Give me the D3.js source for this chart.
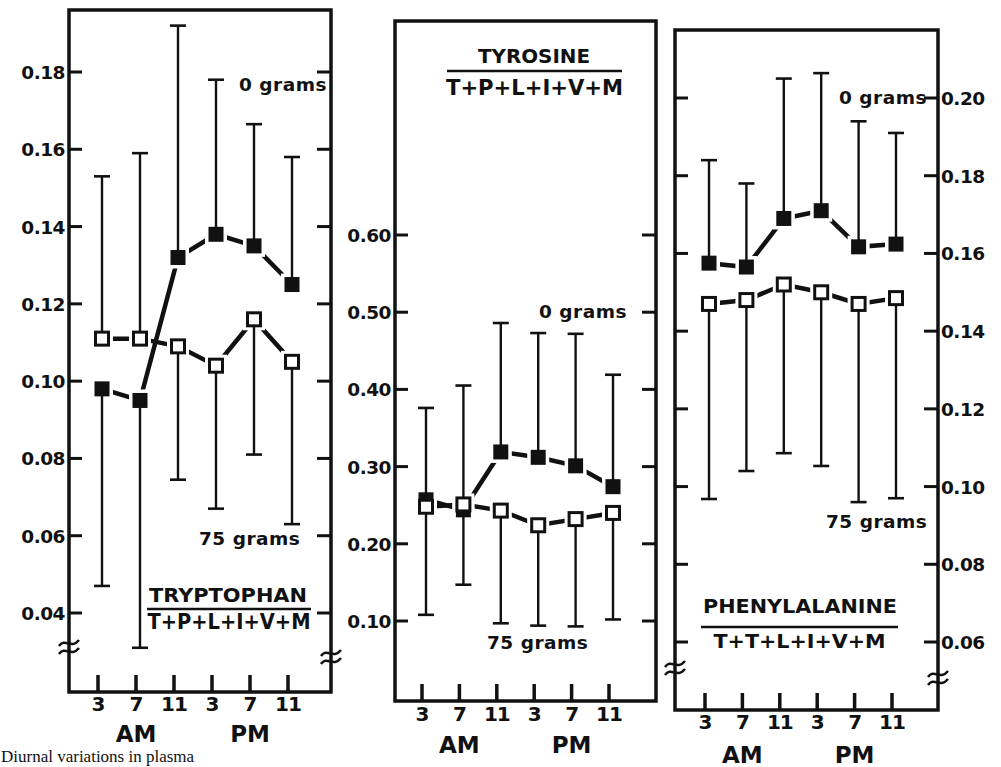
<!DOCTYPE html>
<html>
<head>
<meta charset="utf-8">
<script src="https://cdn.jsdelivr.net/npm/d3@7"></script>
<style>
body { margin: 0; background: #fff; }
svg { display: block; }
text { font-family: "DejaVu Sans", sans-serif; font-weight: bold; fill: #111; }
.caption { font-family: "Liberation Serif", serif; font-weight: normal; }
</style>
</head>
<body>
<svg id="fig" width="1001" height="767"></svg>
<script>
// time of day (hours), two day halves
var times = ["3", "7", "11", "3", "7", "11"];
var halves = ["AM", "PM"];

// tryptophan / (T+P+L+I+V+M)
var trpTicks = [0.04, 0.06, 0.08, 0.10, 0.12, 0.14, 0.16, 0.18];
var trp0 = [0.098, 0.095, 0.132, 0.138, 0.135, 0.125];
var trp0Err = [0.047, 0.031, 0.192, 0.178, 0.1665, 0.158];
var trp75 = [0.111, 0.111, 0.109, 0.104, 0.116, 0.105];
var trp75Err = [0.153, 0.159, 0.0745, 0.067, 0.081, 0.063];

// tyrosine / (T+P+L+I+V+M)
var tyrTicks = [0.10, 0.20, 0.30, 0.40, 0.50, 0.60];
var tyr0 = [0.257, 0.244, 0.319, 0.312, 0.301, 0.274];
var tyr0Err = [0.376, 0.147, 0.486, 0.473, 0.472, 0.419];
var tyr75 = [0.248, 0.251, 0.243, 0.224, 0.232, 0.240];
var tyr75Err = [0.108, 0.405, 0.097, 0.094, 0.093, 0.102];

// phenylalanine / (T+T+L+I+V+M)
var pheTicks = [0.06, 0.08, 0.10, 0.12, 0.14, 0.16, 0.18, 0.20];
var phe0 = [0.1575, 0.1565, 0.169, 0.171, 0.1617, 0.1624];
var phe0Err = [0.184, 0.178, 0.205, 0.2064, 0.194, 0.191];
var phe75 = [0.147, 0.148, 0.152, 0.150, 0.147, 0.1485];
var phe75Err = [0.0968, 0.104, 0.1086, 0.1053, 0.096, 0.097];

var svg = d3.select("#fig");
var fmt = d3.format(".2f");

var panels = [
    {L: 69, R: 331, T: 10, B: 692, x0: 102, dx: 38, dom: [0.04, 0.18], rng: [613, 72],
     ticks: trpTicks, labelSide: "left", s0: trp0, e0: trp0Err, s75: trp75, e75: trp75Err,
     breaks: [[0, 647], [1, 657]], xlabY: 711, amY: 742,
     num: "TRYPTOPHAN", den: "T+P+L+I+V+M", numX: 228, numY: 602, numW: 158, barY: 609, barX: [147, 311],
     denY: 629, denW: 163, denSize: 21,
     g0: [239, 91], g75: [199, 545]},
    {L: 395, R: 656, T: 21, B: 701, x0: 426, dx: 37.4, dom: [0.10, 0.60], rng: [621, 235],
     ticks: tyrTicks, labelSide: "left", s0: tyr0, e0: tyr0Err, s75: tyr75, e75: tyr75Err,
     breaks: [], xlabY: 721, amY: 753,
     num: "TYROSINE", den: "T+P+L+I+V+M", numX: 534, numY: 63, numW: 112, barY: 71, barX: [447, 622],
     denY: 95, denW: 177, denSize: 21,
     g0: [539, 318], g75: [487, 649]},
    {L: 675, R: 938, T: 30, B: 710, x0: 709, dx: 37.4, dom: [0.06, 0.20], rng: [642, 98],
     ticks: pheTicks, labelSide: "right", s0: phe0, e0: phe0Err, s75: phe75, e75: phe75Err,
     breaks: [[0, 668], [1, 678]], xlabY: 729, amY: 763,
     num: "PHENYLALANINE", den: "T+T+L+I+V+M", numX: 800, numY: 613, numW: 194, barY: 627, barX: [701, 898],
     denY: 648, denW: 172, denSize: 19,
     g0: [839, 104], g75: [826, 528]}
];

panels.forEach(drawPanel);

function drawPanel(p) {
    var g = svg.append("g");
    var x = d3.scaleLinear().domain([0, times.length - 1]).range([p.x0, p.x0 + p.dx * (times.length - 1)]);
    var y = d3.scaleLinear().domain(p.dom).range(p.rng);

    // frame
    g.append("rect")
        .attr("x", p.L).attr("y", p.T)
        .attr("width", p.R - p.L).attr("height", p.B - p.T)
        .attr("fill", "none").attr("stroke", "#111").attr("stroke-width", 3.5);

    // y ticks, both sides pointing in
    g.selectAll(".ytl").data(p.ticks).enter().append("line")
        .attr("x1", p.L).attr("x2", p.L + 13)
        .attr("y1", function(d) { return y(d); }).attr("y2", function(d) { return y(d); })
        .attr("stroke", "#111").attr("stroke-width", 3);
    g.selectAll(".ytr").data(p.ticks).enter().append("line")
        .attr("x1", p.R).attr("x2", p.R - 14)
        .attr("y1", function(d) { return y(d); }).attr("y2", function(d) { return y(d); })
        .attr("stroke", "#111").attr("stroke-width", 3);

    g.selectAll(".ylab").data(p.ticks).enter().append("text")
        .attr("x", p.labelSide == "left" ? p.L - 4 : p.R + 3)
        .attr("y", function(d) { return y(d) + 7; })
        .attr("text-anchor", p.labelSide == "left" ? "end" : "start")
        .attr("font-size", 18.5)
        .attr("letter-spacing", -0.5)
        .text(function(d) { return fmt(d); });

    // x ticks
    g.selectAll(".xt").data(times).enter().append("line")
        .attr("x1", function(d, i) { return x(i) - 4; }).attr("x2", function(d, i) { return x(i) - 4; })
        .attr("y1", p.B).attr("y2", p.B - 17)
        .attr("stroke", "#111").attr("stroke-width", 3.5);
    g.selectAll(".xl").data(times).enter().append("text")
        .attr("x", function(d, i) { return x(i) - 4; })
        .attr("y", p.xlabY)
        .attr("text-anchor", "middle")
        .attr("font-size", 20)
        .attr("letter-spacing", -1)
        .text(function(d) { return d; });
    g.selectAll(".half").data(halves).enter().append("text")
        .attr("x", function(d, i) { return x(i * 3 + 1) - 4; })
        .attr("y", p.amY)
        .attr("text-anchor", "middle")
        .attr("font-size", 23)
        .text(function(d) { return d; });

    // axis breaks
    p.breaks.forEach(function(b) {
        var bx = b[0] == 0 ? p.L : p.R;
        [-4, 4].forEach(function(off) {
            g.append("path")
                .attr("d", "M" + (bx - 10) + "," + (b[1] + off + 3) +
                    " C" + (bx - 4) + "," + (b[1] + off - 6) + " " + (bx + 2) + "," + (b[1] + off + 7) +
                    " " + (bx + 10) + "," + (b[1] + off - 3))
                .attr("fill", "none").attr("stroke", "#111").attr("stroke-width", 2.5);
        });
    });

    var line = d3.line()
        .x(function(d, i) { return x(i); })
        .y(function(d) { return y(d); });

    [p.s0, p.s75].forEach(function(s) {
        g.append("path").datum(s)
            .attr("d", line)
            .attr("fill", "none").attr("stroke", "#111").attr("stroke-width", 4.5);
    });

    // white halos give the gaps next to markers
    [p.s0, p.s75].forEach(function(s) {
        g.selectAll(null).data(s).enter().append("rect")
            .attr("x", function(d, i) { return x(i) - 11; })
            .attr("y", function(d) { return y(d) - 11; })
            .attr("width", 22).attr("height", 22)
            .attr("fill", "#fff");
    });

    // error bars
    [[p.s0, p.e0], [p.s75, p.e75]].forEach(function(pair) {
        var bars = g.selectAll(null).data(pair[0]).enter().append("g");
        bars.append("line")
            .attr("x1", function(d, i) { return x(i); }).attr("x2", function(d, i) { return x(i); })
            .attr("y1", function(d) { return y(d); })
            .attr("y2", function(d, i) { return y(pair[1][i]); })
            .attr("stroke", "#111").attr("stroke-width", 2.4);
        bars.append("line")
            .attr("x1", function(d, i) { return x(i) - 8; }).attr("x2", function(d, i) { return x(i) + 8; })
            .attr("y1", function(d, i) { return y(pair[1][i]); })
            .attr("y2", function(d, i) { return y(pair[1][i]); })
            .attr("stroke", "#111").attr("stroke-width", 2.6);
    });

    // 0 grams: filled squares
    g.selectAll(null).data(p.s0).enter().append("rect")
        .attr("x", function(d, i) { return x(i) - 7.5; })
        .attr("y", function(d) { return y(d) - 7.5; })
        .attr("width", 15).attr("height", 15)
        .attr("fill", "#111");
    // 75 grams: open squares
    g.selectAll(null).data(p.s75).enter().append("rect")
        .attr("x", function(d, i) { return x(i) - 6.5; })
        .attr("y", function(d) { return y(d) - 6.5; })
        .attr("width", 13).attr("height", 13)
        .attr("fill", "#fff").attr("stroke", "#111").attr("stroke-width", 3);

    // series labels
    g.append("text").attr("x", p.g0[0]).attr("y", p.g0[1]).attr("font-size", 18.5)
        .attr("letter-spacing", 0.5).text("0 grams");
    g.append("text").attr("x", p.g75[0]).attr("y", p.g75[1]).attr("font-size", 18.5)
        .attr("letter-spacing", 0.5).text("75 grams");

    // ratio title
    g.append("text").attr("x", p.numX).attr("y", p.numY)
        .attr("text-anchor", "middle").attr("font-size", 20)
        .attr("textLength", p.numW).attr("lengthAdjust", "spacingAndGlyphs")
        .text(p.num);
    g.append("line")
        .attr("x1", p.barX[0]).attr("x2", p.barX[1])
        .attr("y1", p.barY).attr("y2", p.barY)
        .attr("stroke", "#111").attr("stroke-width", 2.5);
    g.append("text").attr("x", (p.barX[0] + p.barX[1]) / 2).attr("y", p.denY)
        .attr("text-anchor", "middle").attr("font-size", p.denSize)
        .attr("textLength", p.denW).attr("lengthAdjust", "spacingAndGlyphs")
        .text(p.den);
}

svg.append("text")
    .attr("class", "caption")
    .attr("x", 1).attr("y", 762)
    .attr("font-size", 17)
    .text("Diurnal variations in plasma");
</script>
</body>
</html>
